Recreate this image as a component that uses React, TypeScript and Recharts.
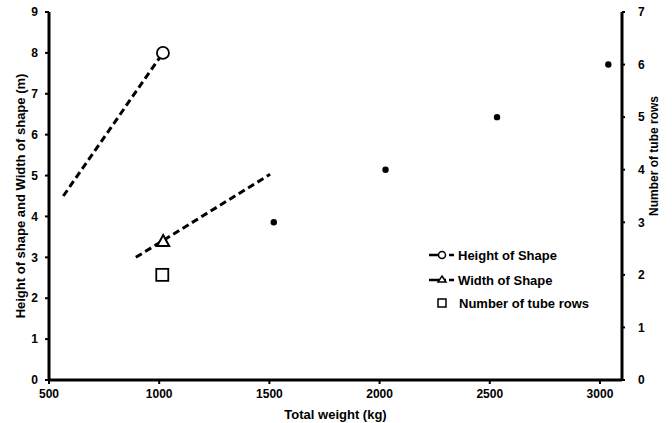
import { ComposedChart, Scatter, XAxis, YAxis, Label } from "recharts";

// valores
const xTicks = [500, 1000, 1500, 2000, 2500, 3000];
const leftTicks = [0, 1, 2, 3, 4, 5, 6, 7, 8, 9];
const rightTicks = [0, 1, 2, 3, 4, 5, 6, 7];

// lineas de tendencia (discontinuas)
const heightTrend = [{ x: 565, y: 4.5 }, { x: 1017, y: 8.0 }];
const widthTrend = [{ x: 894, y: 3.0 }, { x: 1503, y: 5.03 }];

// marcadores
const heightPoints = [{ x: 1017, y: 8.0 }];
const widthPoints = [{ x: 1018, y: 3.4 }];
const tubeRowsSquare = [{ x: 1014, y: 2 }];
const tubeRowsDots = [
    { x: 1520, y: 3 },
    { x: 2027, y: 4 },
    { x: 2533, y: 5 },
    { x: 3038, y: 6 },
];

const FONT = "'Liberation Sans', Arial, sans-serif";
const dash = { stroke: "#000", strokeWidth: 3, strokeDasharray: "7 4" };

const Nada = () => <g />;
const Circulo = (p: any) => (
    <circle cx={p.cx} cy={p.cy} r={6} fill="#fff" stroke="#000" strokeWidth={1.8} />
);
const Triangulo = (p: any) => (
    <path
        d={`M${p.cx},${p.cy - 6} L${p.cx + 6},${p.cy + 5} L${p.cx - 6},${p.cy + 5} Z`}
        fill="#fff" stroke="#000" strokeWidth={2}
    />
);
const Cuadrado = (p: any) => (
    <rect x={p.cx - 6} y={p.cy - 6} width={12} height={12} fill="#fff" stroke="#000" strokeWidth={1.8} />
);
const Punto = (p: any) => <circle cx={p.cx} cy={p.cy} r={3.2} fill="#000" />;

const tickStyle = { fill: "#000", fontSize: 12, fontWeight: "bold", fontFamily: FONT };
const tituloStyle = { textAnchor: "middle", fill: "#000", fontSize: 13, fontWeight: "bold", fontFamily: FONT };

function Leyenda() {
    const fila = { fontFamily: FONT, fontSize: 13, fontWeight: "bold" as const, fill: "#000" };
    return (
        <g>
            {/* Height of Shape */}
            <line x1={429} y1={255} x2={454} y2={255} stroke="#000" strokeWidth={2.5} strokeDasharray="12 3 2 3" />
            <circle cx={442} cy={255} r={3.5} fill="#fff" stroke="#000" strokeWidth={1.5} />
            <text x={458} y={259.5} {...fila}>Height of Shape</text>
            {/* Width of Shape */}
            <line x1={429} y1={280} x2={454} y2={280} stroke="#000" strokeWidth={2.5} strokeDasharray="12 3 2 3" />
            <path d="M442,276 L446,282 L438,282 Z" fill="#fff" stroke="#000" strokeWidth={1.5} />
            <text x={458} y={284.5} {...fila}>Width of Shape</text>
            {/* Number of tube rows */}
            <rect x={438} y={299} width={8} height={8} fill="#fff" stroke="#000" strokeWidth={1.5} />
            <text x={459} y={307.5} {...fila}>Number of tube rows</text>
        </g>
    );
}

export default function App() {
    return (
        <div style={{ position: "absolute", left: 0, top: 0, background: "#fff" }}>
            <ComposedChart width={672} height={423} margin={{ top: 12, right: 0, bottom: 0, left: 0 }}>
                <XAxis
                    type="number" dataKey="x" domain={[500, 3100]} ticks={xTicks}
                    allowDataOverflow height={43}
                    axisLine={{ stroke: "#000", strokeWidth: 3 }}
                    tickLine={{ stroke: "#000", strokeWidth: 2 }} tickSize={4} tickMargin={5}
                    tick={tickStyle}
                >
                    <Label value="Total weight (kg)" position="insideBottom" offset={4} style={tituloStyle} />
                </XAxis>
                <YAxis
                    yAxisId="left" type="number" dataKey="y" domain={[0, 9]} ticks={leftTicks}
                    width={49} interval={0}
                    axisLine={{ stroke: "#000", strokeWidth: 3 }}
                    tickLine={{ stroke: "#000", strokeWidth: 2 }} tickSize={4} tickMargin={7}
                    tick={tickStyle}
                >
                    <Label value="Height of shape and Width of shape (m)" angle={-90} position="insideLeft"
                        offset={20} style={tituloStyle} />
                </YAxis>
                <YAxis
                    yAxisId="right" orientation="right" type="number" dataKey="y" domain={[0, 7]} ticks={rightTicks}
                    width={50} interval={0}
                    axisLine={{ stroke: "#000", strokeWidth: 3 }}
                    tickLine={{ stroke: "#000", strokeWidth: 2 }} tickSize={3} tickMargin={13}
                    tick={{ ...tickStyle, textAnchor: "start" }}
                >
                    <Label value="Number of tube rows" angle={-90} position="insideRight"
                        offset={18} dy={-40} style={{ ...tituloStyle, fontSize: 12 }} />
                </YAxis>

                <Scatter yAxisId="left" data={heightTrend} line={dash} shape={Nada} isAnimationActive={false} />
                <Scatter yAxisId="left" data={widthTrend} line={dash} shape={Nada} isAnimationActive={false} />
                <Scatter yAxisId="left" data={heightPoints} shape={Circulo} isAnimationActive={false} />
                <Scatter yAxisId="left" data={widthPoints} shape={Triangulo} isAnimationActive={false} />
                <Scatter yAxisId="right" data={tubeRowsSquare} shape={Cuadrado} isAnimationActive={false} />
                <Scatter yAxisId="right" data={tubeRowsDots} shape={Punto} isAnimationActive={false} />

                <Leyenda />
            </ComposedChart>
        </div>
    );
}
